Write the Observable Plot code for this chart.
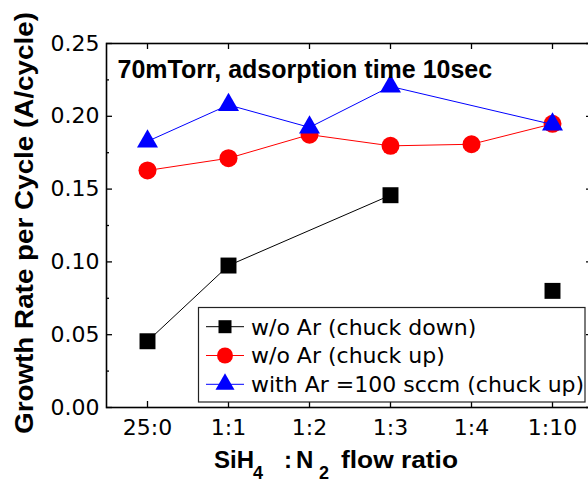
<!DOCTYPE html>
<html>
<head>
<meta charset="utf-8">
<script src="https://cdn.jsdelivr.net/npm/d3@7"></script>
<script src="https://cdn.jsdelivr.net/npm/@observablehq/plot@0.6"></script>
<style>
  html, body { margin: 0; padding: 0; background: white; }
  #chart { width: 588px; height: 482px; overflow: hidden; }
</style>
</head>
<body>
<div id="chart"></div>
<script>
// ---- data ----
const categories = ["25:0", "1:1", "1:2", "1:3", "1:4", "1:10"];
const chuckDown = [0.0455, 0.0975, null, 0.1458, null, 0.0801];
const chuckUp   = [0.1628, 0.1712, 0.1874, 0.1797, 0.1808, 0.1948];
const withAr    = [0.1828, 0.2078, 0.1924, 0.2205, null, 0.1944];
// the chuck-down line is broken before this category (isolated last point)
const chuckDownBreakBefore = "1:10";
const seriesNames = ["w/o Ar (chuck down)", "w/o Ar (chuck up)", "with Ar =100 sccm (chuck up)"];
const yMajorTicks = [0, 0.05, 0.10, 0.15, 0.20, 0.25];
const yMinorTicks = [0.025, 0.075, 0.125, 0.175, 0.225];
const titleText = "70mTorr, adsorption time 10sec";

// ---- layout ----
const W = 588, H = 482;
const mL = 106, mR = -4, mT = 43, mB = 75;
const fw = W - mL - mR, fh = H - mT - mB;

function rows(values) {
  let seg = 0;
  return categories.map((c, i) => {
    if (c === chuckDownBreakBefore) seg++;
    return {cat: c, v: values[i], seg};
  }).filter(d => d.v != null);
}
const downRows = rows(chuckDown);
const upRows = rows(chuckUp).map(d => ({...d, seg: 0}));
const arRows = rows(withAr).map(d => ({...d, seg: 0}));

const svg = Plot.plot({
  width: W, height: H,
  marginLeft: mL, marginRight: mR, marginTop: mT, marginBottom: mB,
  style: {fontFamily: "DejaVu Sans", fontSize: "22px", background: "white", overflow: "hidden", color: "black"},
  x: {type: "point", domain: categories, padding: 0.5, label: null},
  y: {domain: [0, 0.25], label: null},
  marks: [
    Plot.axisY({ticks: yMajorTicks, tickSize: 0, tickPadding: 7, tickFormat: d3.format(".2f"), fontSize: 22, label: null}),
    Plot.axisX({tickSize: 0, tickPadding: 12, fontSize: 22, label: null}),
    // inward ticks: left & right
    Plot.tickY(yMajorTicks, {y: d => d, insetRight: fw - 6, stroke: "black", strokeWidth: 1.3}),
    Plot.tickY(yMinorTicks, {y: d => d, insetRight: fw - 3, stroke: "black", strokeWidth: 1.3}),
    Plot.tickY(yMajorTicks, {y: d => d, insetLeft: fw - 6, stroke: "black", strokeWidth: 1.3}),
    Plot.tickY(yMinorTicks, {y: d => d, insetLeft: fw - 3, stroke: "black", strokeWidth: 1.3}),
    // inward ticks: top & bottom
    Plot.tickX(categories, {x: d => d, insetTop: fh - 6, stroke: "black", strokeWidth: 1.3}),
    Plot.tickX(categories, {x: d => d, insetBottom: fh - 6, stroke: "black", strokeWidth: 1.3}),
    Plot.frame({stroke: "black", strokeWidth: 1.6}),
    // series
    Plot.line(downRows, {x: "cat", y: "v", z: "seg", stroke: "black", strokeWidth: 1}),
    Plot.dot(downRows, {x: "cat", y: "v", symbol: "square", r: 9.0, fill: "black"}),
    Plot.line(upRows, {x: "cat", y: "v", stroke: "#ff0000", strokeWidth: 1}),
    Plot.dot(upRows, {x: "cat", y: "v", symbol: "circle", r: 9, fill: "#ff0000"}),
    Plot.line(arRows, {x: "cat", y: "v", stroke: "#0000ff", strokeWidth: 1}),
    Plot.dot(arRows, {x: "cat", y: "v", symbol: "triangle", r: 7.8, fill: "#0000ff"}),
    // title annotation
    Plot.text([titleText], {text: d => d, frameAnchor: "top-left", dx: 11, dy: 26, textAnchor: "start", lineAnchor: "middle",
      fontFamily: "Liberation Sans, Arial, sans-serif", fontWeight: "bold", fontSize: 25, fill: "black"})
  ]
});

const s = d3.select(svg);

// y-axis label
s.append("text")
  .attr("transform", "translate(33.3,223) rotate(-90)")
  .attr("text-anchor", "middle")
  .attr("font-family", "Liberation Sans, Arial, sans-serif")
  .attr("font-weight", "bold")
  .attr("font-size", 25)
  .attr("textLength", 422)
  .attr("lengthAdjust", "spacingAndGlyphs")
  .attr("fill", "black")
  .text("Growth Rate per Cycle (A/cycle)");

// x-axis label with subscripts
const xl = s.append("text")
  .attr("y", 468.3)
  .attr("text-anchor", "start")
  .attr("font-family", "Liberation Sans, Arial, sans-serif")
  .attr("font-weight", "bold")
  .attr("font-size", 24)
  .attr("fill", "black");
xl.append("tspan").attr("x", 214).attr("y", 468.3).text("SiH");
xl.append("tspan").attr("x", 253).attr("y", 479.3).attr("font-size", 18).text("4");
xl.append("tspan").attr("x", 284).attr("y", 468.3).text(":");
xl.append("tspan").attr("x", 296).attr("y", 468.3).text("N");
xl.append("tspan").attr("x", 319).attr("y", 479.3).attr("font-size", 18).text("2");
xl.append("tspan").attr("x", 341).attr("y", 468.3).attr("textLength", 117).attr("lengthAdjust", "spacingAndGlyphs").text("flow ratio");

// legend
const lg = s.append("g").attr("text-anchor", "start");
lg.append("rect").attr("x", 198.5).attr("y", 307.5).attr("width", 386.5).attr("height", 94.5)
  .attr("fill", "white").attr("stroke", "#222").attr("stroke-width", 1.2);
const legColors = ["black", "#ff0000", "#0000ff"];
const legSymbols = [d3.symbol(d3.symbolSquare, 169), d3.symbol(d3.symbolCircle, Math.PI * 64), d3.symbol(d3.symbolTriangle, 156)];
seriesNames.forEach((name, i) => {
  const y = 326.7 + i * 28.8;
  lg.append("line").attr("x1", 206).attr("x2", 244).attr("y1", y).attr("y2", y)
    .attr("stroke", legColors[i]).attr("stroke-width", 1);
  lg.append("path").attr("transform", `translate(225,${y})`).attr("d", legSymbols[i]()).attr("fill", legColors[i]);
  lg.append("text").attr("x", 251).attr("y", y).attr("dy", "0.36em").attr("text-anchor", "start")
    .attr("font-family", "DejaVu Sans").attr("font-size", 22).attr("fill", "black").text(name);
});

document.getElementById("chart").appendChild(svg);
</script>
</body>
</html>
